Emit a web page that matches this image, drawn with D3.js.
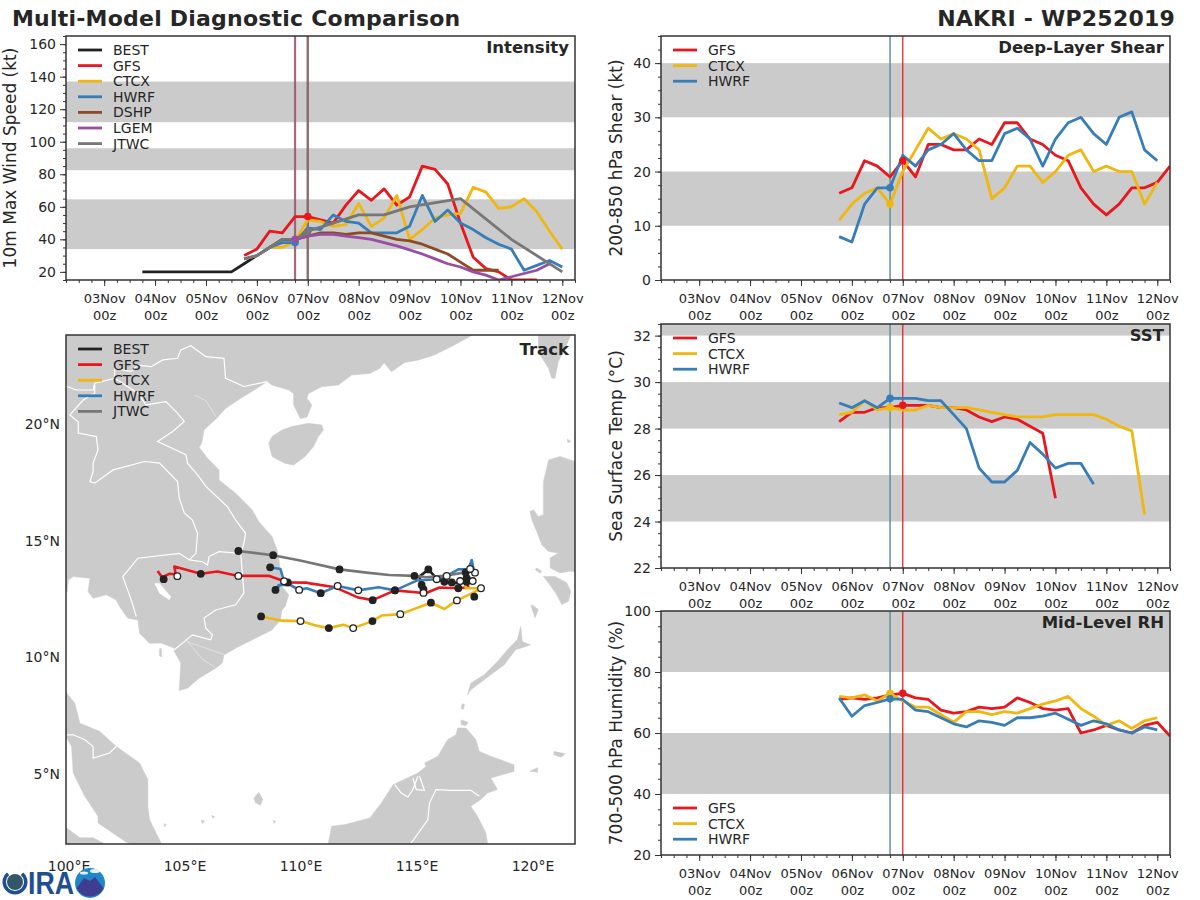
<!DOCTYPE html>
<html><head><meta charset="utf-8">
<script src="https://cdn.jsdelivr.net/npm/d3@7"></script>
<style>html,body{margin:0;padding:0;background:#fff}svg{display:block}text{font-family:"DejaVu Sans",sans-serif;fill:#262626}</style>
</head><body><svg id="c" width="1200" height="900"></svg>
<script>
// ---------- time axis (days after 03Nov 00z) ----------
const dayLabels=["03Nov","04Nov","05Nov","06Nov","07Nov","08Nov","09Nov","10Nov","11Nov","12Nov"];
const hourLabel="00z";
// ---------- intensity (kt) ----------
const bestDays=[0.75,1,1.25,1.5,1.75,2,2.25,2.5,2.75,3,3.25,3.5,3.75,4];
const bestWind=[20,20,20,20,20,20,20,20,25,30,35,40,40,45];
const gfsWind=[30,34,45,44,54,54,52,50,61,70,64,71,61,66,85,83,74,50,29,22,20,15,15,15];
const ctcxWind=[28,30,35,35,39,52,51,48,49,62,48,53,67,40,46,53,55,56,72,69,59,60,65,57,45,34];
const hwrfWind=[28,30,35,38,38,47,46,55,51,50,44,44,44,48,67,51,58,50,46,41,37,34,21,24,27,23];
const dshpWind=[40,42,44,44,43,44,44,42,40,39,37,34,31,26,21,21,21];
const lgemWind=[40,42,43,43,42,41,40,38,36,33.5,31,28,25,23,20,18,15,17,19,21,25];
const jtwcDays=[2.75,3,3.25,3.5,3.75,4,4.5,5,5.5,6,7,8,9];
const jtwcWind=[28,30,35,40,40,45,50,55,55,60,65,40,20];
// ---------- shear (kt) ----------
const gfsShear=[16,17,22,21,19,22,19,25,25,24,24,26,25,29,29,26,25,23,22,17,14,12,14,17,17,18,21];
const ctcxShear=[11,14,16,17,14,20,24,28,26,27,26,24,15,17,21,21,18,20,23,24,20,21,20,20,14,18];
const hwrfShear=[8,7,14,17,17,23,21,24,25,27,24,22,22,27,28,26,21,26,29,30,27,25,30,31,24,22];
// ---------- SST (C) ----------
const gfsSst=[28.3,28.7,28.7,28.9,28.9,29,29,29,28.9,28.9,28.8,28.5,28.3,28.5,28.4,28.1,27.8,25];
const ctcxSst=[28.6,28.7,29.2,28.8,28.9,28.8,28.8,29,28.9,28.9,28.9,28.8,28.7,28.6,28.5,28.5,28.5,28.6,28.6,28.6,28.6,28.4,28.1,27.9,24.3];
const hwrfSst=[29.1,28.9,29.2,28.9,29.3,29.3,29.3,29.2,29.2,28.6,28,26.3,25.7,25.7,26.2,27.4,26.9,26.3,26.5,26.5,25.6];
// ---------- mid-level RH (%) ----------
const gfsRh=[71,71.5,71,71.5,72.5,73,71.5,71,67.5,66.5,67,68.5,68,68.5,71.5,70,68,67.5,68,60,61,62.5,61,60,62.5,63.5,59];
const ctcxRh=[72,71.5,72.5,70.5,73,70.5,68.5,68.5,66,63.5,67,67,66,67,66.5,68,69.5,70.5,72,68,65.5,62.5,64,61.5,64,65];
const hwrfRh=[71.5,65.5,69,70,71.2,71,67.5,67,65,63,62,64,63.5,62.5,65,65,65.5,66.5,64.5,62.5,64,63,61,60,62,61];
// ---------- tracks: [lon, lat, marker] marker f=filled, o=open ----------
const trackBest=[[115.28,12.9,"f"],[115.2,13.09,"f"],[115.1,13.45,""],[115.49,13.76,"f"],[115.88,13.33,""],[116.18,13.23,"f"],[116.5,13.2,"f"],[116.86,13.16,""],[117.14,13.23,"f"],[117.14,13.38,"f"],[117.1,13.63,"f"]];
const trackGfs=[[117.14,13.23,""],[117.22,12.99,""],[116.78,12.95,"f"],[115.97,12.98,""],[115.42,12.76,""],[115.28,12.75,"o"],[114.05,12.86,"f"],[113.09,12.44,"f"],[112.47,12.55,""],[111.47,12.99,""],[110.39,13.16,""],[110.25,13.19,""],[109.43,13.2,"f"],[108.64,13.48,""],[107.3,13.48,"o"],[106.4,13.67,""],[105.68,13.57,"f"],[104.54,13.88,""],[104.6,13.55,""],[104.32,13.57,""],[104.01,13.42,""],[103.82,13.69,""]];
const trackCtcx=[[117.07,13.24,""],[117.1,12.95,""],[117.76,12.95,"o"],[117.43,12.76,""],[116.72,12.43,"o"],[116.18,12.06,""],[115.6,12.33,"f"],[114.28,11.84,"o"],[113.47,11.78,""],[113.08,11.54,"f"],[112.25,11.24,"o"],[111.82,11.38,""],[111.2,11.24,"f"],[110.68,11.34,""],[109.98,11.54,"o"],[109.18,11.56,""],[108.28,11.74,"f"]];
const trackHwrf=[[117.14,13.59,""],[117.36,14.16,""],[117.46,13.66,""],[117.29,13.76,""],[116.78,13.76,""],[116.28,13.48,"o"],[115.85,13.34,"o"],[114.99,13.28,""],[114.05,12.86,"f"],[113.34,12.99,""],[112.47,12.86,"o"],[111.58,13.05,"o"],[110.85,12.74,"f"],[110.25,12.95,""],[109.92,12.88,"o"],[109.54,13.09,""],[109.04,13.09,""],[108.9,12.88,"f"],[109.27,13.25,"o"],[109.21,13.45,""],[109.11,13.78,""],[108.67,13.85,"f"]];
const trackJtwc=[[117.43,13.76,""],[117,13.62,""],[116.28,13.5,""],[115.4,13.42,""],[114.89,13.48,"f"],[113.8,13.52,""],[112.83,13.62,""],[111.66,13.76,"f"],[109.96,14.14,""],[108.8,14.37,"f"],[107.3,14.55,"f"]];
const extraFilled=[[117.47,12.59],[104.08,13.34]];
const extraOpen=[[116.86,13.26],[117.5,13.62],[117.4,13.26],[117.29,13.78],[104.67,13.47]];
// ---------- map outlines (lon, lat) ----------
const landMain=[[117.4,23.82],[116.61,23.39],[115.75,22.96],[115.04,22.74],[114.47,22.64],[113.9,22.24],[113.58,22.63],[113.4,22.39],[112.97,22.17],[112.18,22.1],[111.61,21.67],[110.9,21.6],[110.32,21.31],[110.25,21.1],[110.47,20.82],[110.25,20.29],[109.97,20.24],[109.68,20.82],[109.68,21.31],[109.47,21.46],[108.75,21.67],[108.54,21.82],[108.04,21.49],[107.4,21.1],[106.75,20.67],[106.32,20.2],[105.82,19.74],[105.72,19.17],[105.61,19],[105.97,18.53],[106.47,18.03],[106.47,17.6],[107.18,17.03],[107.9,16.31],[108.18,15.81],[108.75,15.17],[108.97,14.6],[109.07,14.03],[109.18,13.03],[109.47,12.67],[109.32,12.17],[109.18,12.02],[109.11,11.59],[108.75,11.16],[108.04,10.81],[107.18,10.38],[106.68,10.09],[106.61,9.74],[106.32,9.52],[105.61,9.09],[105.11,8.66],[104.75,8.56],[104.82,9.74],[104.54,10.24],[104.54,10.38],[103.97,10.6],[103.47,10.59],[103.04,11.02],[102.97,11.59],[102.54,11.66],[102.18,12.16],[102.04,12.45],[101.61,12.67],[101.04,12.52],[100.82,12.81],[100.9,13.38],[100.18,13.45],[99.97,13.31],[99.92,12.81],[99.4,12.7],[99.4,24.5],[117.4,24.5]];
const landLake=[[103.68,13.17],[103.9,13.17],[104.4,12.59],[104.32,12.45],[103.9,12.74]];
const landHainan=[[108.61,19.17],[108.75,19.46],[109.18,19.74],[109.61,19.89],[110.32,20.03],[110.9,19.96],[110.97,19.74],[110.75,19.46],[110.54,19.03],[110.18,18.6],[109.68,18.24],[109.32,18.31],[108.75,18.6]];
const landTaiwan=[[120.23,24.5],[122,24.5],[121.67,23.9],[121.38,23.25],[121.09,22.68],[120.95,21.96],[120.81,21.96],[120.67,22.39],[120.31,22.96],[120.23,23.39]];
const landLuzon=[[120.67,18.46],[121.17,18.6],[121.81,18.39],[122.3,18.39],[122.3,13.6],[121.6,13.68],[121.17,13.61],[120.74,13.82],[120.74,14.25],[121.1,14.46],[120.67,14.53],[120.38,14.82],[120.16,15.39],[119.95,15.89],[119.87,16.25],[120.02,16.32],[120.23,16.03],[120.45,16.11],[120.45,16.68],[120.45,17.53],[120.59,18.1]];
const landMindoro=[[120.45,13.46],[120.95,13.46],[121.46,13.18],[121.63,12.82],[121.53,12.39],[121.24,12.25],[121.02,12.68],[120.67,13.18]];
const landPalawan=[[119.47,11.31],[119.54,10.66],[119.9,10.52],[119.25,10.31],[118.75,9.66],[118.18,9.24],[117.32,8.59],[117.18,8.38],[117.32,8.88],[117.9,9.24],[118.47,9.81],[118.9,10.31],[119.32,10.74]];
const landBorneo=[[111.18,1.5],[111.18,2.02],[111.32,2.74],[111.9,2.81],[112.97,3.09],[113.47,3.74],[113.97,4.52],[115.04,5.02],[115.4,5.31],[115.33,5.45],[115.9,5.74],[116.32,6.45],[116.68,6.66],[116.75,6.95],[117.11,6.95],[117.54,6.45],[117.68,5.95],[118.18,5.74],[119.18,5.38],[119.18,5.09],[118.18,4.81],[118.47,4.31],[118.04,4.16],[117.75,3.88],[117.32,3.59],[117.61,3.16],[117.97,2.45],[118.04,2.02],[118.04,1.5]];
const landMalaya=[[99.4,8.5],[99.9,8.45],[100.25,8.02],[100.47,7.16],[101.32,6.81],[102.04,6.16],[103.04,5.45],[103.4,4.74],[103.4,3.59],[103.47,3.02],[103.97,2.02],[103.97,1.5],[102.47,2.05],[101.25,2.88],[101.25,3.16],[100.68,4.02],[100.18,5.02],[100.11,6.16],[99.9,6.52],[99.4,6.8]];
const landSumatra=[[99.9,2.66],[100.47,2.24],[101.04,2.24],[101.47,2.02],[101.47,1.5],[99.4,1.5],[99.4,2.9]];
const landSmall=[
 [[108.18,4.19],[108.35,3.88],[108.25,3.64],[108.04,3.74],[107.97,3.95]],
 [[103.97,10.38],[104,10],[103.9,10.05],[103.9,10.35]],
 [[120.9,5.95],[121.4,5.85],[121.2,5.7],[120.9,5.8]],
 [[119.85,5.1],[120.2,5.25],[120.2,5.05]],
 [[119.9,12.2],[120.2,12.05],[120,12]],
 [[120.16,13.82],[120.38,13.68],[120.3,13.6],[120.1,13.75]],
 [[119.95,12.25],[120.23,12.03],[120.09,11.68],[119.99,11.96]],
 [[121.48,19.35],[121.63,19.25],[121.5,19.2]],
 [[116.95,8],[117.05,7.95],[117,7.75],[116.9,7.8]],
 [[116.9,7.3],[117.2,7.2],[117.1,7.05],[116.9,7.1]],
 [[105.7,3],[105.85,2.95],[105.75,2.85]],[[106.15,3.2],[106.28,3.15],[106.2,3.08]],[[108.8,3],[108.9,2.95],[108.85,2.85]],[[104.1,2.85],[104.2,2.8],[104.12,2.7]]
];
const borders=[
 [[108.54,21.82],[107.54,21.61],[106.75,21.96],[106.68,22.82],[105.9,22.89],[105.25,23.36],[104.82,23.18],[104.68,22.82],[104.04,22.75],[103.54,22.46],[102.97,22.53],[102.68,22.25],[101.97,22.39],[101.97,21.96],[101.11,21.75],[101.04,21.46],[100.32,21.46],[99.9,21.61],[99.5,22]],
 [[101.11,21.7],[101.11,21.32],[100.61,21.03],[100.04,20.39],[100.4,20.08],[100.4,19.61],[101.18,19.46],[101.25,18.89],[101.04,18.32],[101.04,17.96],[100.9,17.53],[101.11,17.46],[101.9,18.03],[103.25,18.39],[103.9,18.32],[104.68,17.53],[104.75,16.82],[104.97,16.18],[105.32,15.88],[105.54,15.31],[105.47,14.45],[105.18,14.17]],
 [[105.18,14.17],[104.75,14.45],[102.97,14.24],[102.32,13.45],[102.68,12.45],[102.9,11.74]],
 [[105.18,14.17],[105.75,14.09],[105.97,13.95],[106.04,14.31],[106.47,14.52],[107.4,14.45]],
 [[107.4,14.45],[107.54,12.74],[107.18,12.24],[106.32,12.02],[105.82,11.67],[105.9,11.24],[106.18,10.95],[106.11,10.74],[105.32,10.95],[104.97,10.66],[104.54,10.31]],
 [[101.97,21.96],[102.97,21.32],[103.32,20.82],[104.18,20.96],[104.68,20.46],[104.97,20.11],[104.47,19.68],[103.82,19.25],[105.04,18.68],[105.11,18.32],[105.54,17.82],[105.9,17.32],[106.82,16.46],[107.18,15.88],[107.61,15.31],[107.54,14.88],[107.4,14.45]],
 [[99.9,6.66],[100.18,6.66],[100.68,6.45],[101.04,6.16],[101.04,5.66],[101.75,5.88],[102.04,6.16]],
 [[114.75,2.02],[115.11,2.52],[115.47,3.02],[115.54,3.74],[115.82,4.31],[116.47,4.28],[117.32,4.28],[117.68,4.02]],
 [[114.04,4.52],[114.32,4.16],[114.61,3.99],[114.82,4.31],[115.04,4.88]],
 [[114.82,4.81],[114.97,4.31],[115.32,4.28],[115.11,4.88]]
];
const rivers=[[[105.4,21.25],[105.9,21],[106.32,20.32]],[[105,10.8],[105.75,9.9],[106.3,9.55]],[[105.1,10.65],[106.7,10.1]]];
// ---------- colours / names ----------
const C={BEST:"#222222",GFS:"#e8171e",CTCX:"#efb70f",HWRF:"#377eb8",DSHP:"#8c4b26",LGEM:"#984ea3",JTWC:"#777777"};
const svg=d3.select("#c");
const PW=509,PH=244;
const x=d3.scaleLinear().domain([-0.75,9.25]).range([0,PW]);
const from=(s,v)=>v.map((d,i)=>[s+i*0.25,d]);
const zip=(a,b)=>a.map((d,i)=>[d,b[i]]);
function panel(o){
  const g=svg.append("g").attr("transform",`translate(${o.left},${o.top})`);
  const id="clip"+o.top+"_"+o.left;
  g.append("clipPath").attr("id",id).append("rect").attr("width",PW).attr("height",PH);
  const y=d3.scaleLinear().domain(o.dom).range([PH,0]);
  const body=g.append("g").attr("clip-path",`url(#${id})`);
  body.selectAll(".band").data(o.bands).join("rect").attr("x",0).attr("width",PW)
    .attr("y",d=>y(d[1])).attr("height",d=>y(d[0])-y(d[1])).attr("fill","#cbcbcb");
  o.vlines.forEach(v=>body.append("line").attr("x1",x(v[0])).attr("x2",x(v[0])).attr("y1",0).attr("y2",PH).attr("stroke",v[1]).attr("stroke-width",v[2]).attr("stroke-opacity",v[3]||1));
  const line=d3.line().x(d=>x(d[0])).y(d=>y(d[1]));
  o.series.forEach(s=>body.append("path").attr("d",line(s.pts)).attr("fill","none").attr("stroke",C[s.name]).attr("stroke-width",2.8).attr("stroke-linejoin","round"));
  o.dots.forEach(s=>body.append("circle").attr("cx",x(s[1])).attr("cy",y(s[2])).attr("r",3.8).attr("fill",C[s[0]]));
  // axes
  const ax=d3.axisBottom(x).tickValues(d3.range(0,dayLabels.length)).tickSize(6).tickPadding(17).tickFormat(d=>dayLabels[d]);
  const ag=g.append("g").attr("transform",`translate(0,${PH})`).call(ax);
  ag.selectAll("text").attr("font-size",13).each(function(d){
    const t=d3.select(this),lab=dayLabels[d];t.text(null);
    t.append("tspan").attr("x",0).attr("dy",0).text(lab);
    t.append("tspan").attr("x",0).attr("dy","1.3em").text(hourLabel);
  });
  const mx=d3.axisBottom(x).tickValues(d3.range(-0.75,9.26,0.25)).tickSize(3).tickFormat("");
  g.append("g").attr("transform",`translate(0,${PH})`).call(mx);
  const ay=d3.axisLeft(y).tickValues(o.ticks).tickSize(6).tickPadding(4);
  const yg=g.append("g").call(ay); yg.selectAll("text").attr("font-size",14);
  const my=d3.axisLeft(y).tickValues(o.minor).tickSize(3).tickFormat("");
  g.append("g").call(my);
  g.selectAll(".domain").attr("stroke","none");
  g.selectAll(".tick line").attr("stroke","#333");
  g.append("rect").attr("width",PW).attr("height",PH).attr("fill","none").attr("stroke","#333").attr("stroke-width",1.5);
  g.append("text").attr("transform",`translate(${o.labelX-o.left},${PH/2}) rotate(-90)`).attr("text-anchor","middle").attr("dominant-baseline","central").attr("font-size",17).text(o.ylabel);
  title(g,o.title,PW-6,11);
  legend(g,o.series.map(s=>s.name),o.legendY);
}
function title(g,t,xp,yp){g.append("text").attr("x",xp).attr("y",yp).attr("text-anchor","end").attr("dominant-baseline","central").attr("font-size",16.5).attr("font-weight","bold").attr("fill","#262626").text(t);}
function legend(g,names,y0){
  names.forEach((n,i)=>{
    const yy=y0+i*15.6;
    g.append("line").attr("x1",12).attr("x2",36).attr("y1",yy).attr("y2",yy).attr("stroke",C[n]).attr("stroke-width",2.8);
    g.append("text").attr("x",47).attr("y",yy).attr("dominant-baseline","central").attr("font-size",14).text(n);
  });
}
const minorTicks=(a,b,s)=>d3.range(a,b+1e-6,s);
const thinLines=[[3.75,C.CTCX,1.8,.4],[3.75,C.HWRF,1.1],[4,C.GFS,1.2]];
panel({left:66,top:36,dom:[15,165],ylabel:"10m Max Wind Speed (kt)",labelX:10,title:"Intensity",
  ticks:d3.range(20,161,20),minor:minorTicks(15,165,5),
  bands:[[34,64.6],[82.5,96],[112,137]],legendY:14,
  vlines:[[3.75,C.CTCX,2.2,.5],[3.75,C.DSHP,2.2,.5],[3.75,C.LGEM,1.6,.8],[4,C.GFS,2.2,.5],[4,C.DSHP,2.2,.6],[4,C.JTWC,1.7]],
  series:[{name:"BEST",pts:zip(bestDays,bestWind)},{name:"GFS",pts:from(2.75,gfsWind)},{name:"CTCX",pts:from(2.75,ctcxWind)},{name:"HWRF",pts:from(2.75,hwrfWind)},{name:"DSHP",pts:from(3.75,dshpWind)},{name:"LGEM",pts:from(3.75,lgemWind)},{name:"JTWC",pts:zip(jtwcDays,jtwcWind)}],
  dots:[["GFS",4,54],["CTCX",3.75,39],["HWRF",3.75,38],["LGEM",3.75,40],["JTWC",4,45]]});
panel({left:661,top:36,dom:[0,45],ylabel:"200-850 hPa Shear (kt)",labelX:616,title:"Deep-Layer Shear",
  ticks:d3.range(0,41,10),minor:minorTicks(0,45,2.5),bands:[[10,20],[30,40]],legendY:14,vlines:thinLines,
  series:[{name:"GFS",pts:from(2.75,gfsShear)},{name:"CTCX",pts:from(2.75,ctcxShear)},{name:"HWRF",pts:from(2.75,hwrfShear)}],
  dots:[["GFS",4,22],["CTCX",3.75,14],["HWRF",3.75,17]]});
panel({left:661,top:324,dom:[22,32.5],ylabel:"Sea Surface Temp (°C)",labelX:616,title:"SST",
  ticks:d3.range(22,33,2),minor:minorTicks(22,32.5,0.5),bands:[[24,26],[28,30],[32,33]],legendY:14,vlines:thinLines,
  series:[{name:"GFS",pts:from(2.75,gfsSst)},{name:"CTCX",pts:from(2.75,ctcxSst)},{name:"HWRF",pts:from(2.75,hwrfSst)}],
  dots:[["GFS",4,29],["CTCX",3.75,28.9],["HWRF",3.75,29.3]]});
panel({left:661,top:611,dom:[20,100],ylabel:"700-500 hPa Humidity (%)",labelX:616,title:"Mid-Level RH",
  ticks:d3.range(20,101,20),minor:minorTicks(20,100,5),bands:[[40,60],[80,100]],legendY:197,vlines:thinLines,
  series:[{name:"GFS",pts:from(2.75,gfsRh)},{name:"CTCX",pts:from(2.75,ctcxRh)},{name:"HWRF",pts:from(2.75,hwrfRh)}],
  dots:[["GFS",4,73],["CTCX",3.75,73],["HWRF",3.75,71.2]]});
// ---------- track ----------
(function(){
  const W=509,H=509;
  const g=svg.append("g").attr("transform","translate(66,335)");
  g.append("clipPath").attr("id","trk").append("rect").attr("width",W).attr("height",H);
  const lonS=d3.scaleLinear().domain([100,120]).range([3,467]);
  const latS=d3.scaleLinear().domain([20,5]).range([89,438.5]);
  const body=g.append("g").attr("clip-path","url(#trk)");
  const ll=d3.line().x(d=>lonS(d[0])).y(d=>latS(d[1]));
  const polys=[landMain,landHainan,landTaiwan,landLuzon,landMindoro,landPalawan,landBorneo,landMalaya,landSumatra].concat(landSmall);
  body.selectAll(".land").data(polys).join("path").attr("d",d=>ll(d)+"Z").attr("fill","#cbcbcb").attr("stroke","#cbcbcb").attr("stroke-width",.5).attr("stroke-linejoin","round");
  body.append("path").attr("d",ll(landLake)+"Z").attr("fill","#fff");
  body.selectAll(".bd").data(borders).join("path").attr("d",ll).attr("fill","none").attr("stroke","#fff").attr("stroke-width",1.2);
  body.selectAll(".rv").data(rivers).join("path").attr("d",ll).attr("fill","none").attr("stroke","#fff").attr("stroke-opacity",.5).attr("stroke-width",.8);
  const tracks=[["BEST",trackBest],["GFS",trackGfs],["CTCX",trackCtcx],["HWRF",trackHwrf],["JTWC",trackJtwc]];
  tracks.forEach(t=>body.append("path").attr("d",ll(t[1])).attr("fill","none").attr("stroke",C[t[0]]).attr("stroke-width",2.6).attr("stroke-linejoin","round"));
  const filled=tracks.flatMap(t=>t[1].filter(d=>d[2]==="f")).concat(extraFilled);
  const open=tracks.flatMap(t=>t[1].filter(d=>d[2]==="o")).concat(extraOpen);
  body.selectAll(".f").data(filled).join("circle").attr("cx",d=>lonS(d[0])).attr("cy",d=>latS(d[1])).attr("r",3.9).attr("fill","#222");
  body.selectAll(".o").data(open).join("circle").attr("cx",d=>lonS(d[0])).attr("cy",d=>latS(d[1])).attr("r",3.3).attr("fill","#fff").attr("stroke","#222").attr("stroke-width",1.3);
  g.append("rect").attr("width",W).attr("height",H).attr("fill","none").attr("stroke","#333").attr("stroke-width",1.5);
  title(g,"Track",W-6,14);
  legend(g,["BEST","GFS","CTCX","HWRF","JTWC"],14);
  [20,15,10,5].forEach(v=>g.append("text").attr("x",-6).attr("y",latS(v)).attr("text-anchor","end").attr("dominant-baseline","central").attr("font-size",14).text(v+"°N"));
  [100,105,110,115,120].forEach(v=>g.append("text").attr("x",lonS(v)).attr("y",H+22).attr("text-anchor","middle").attr("dominant-baseline","central").attr("font-size",14).text(v+"°E"));
})();
// ---------- titles ----------
svg.append("text").attr("x",12).attr("y",26).attr("font-size",22).attr("font-weight","bold").attr("fill","#262626").attr("letter-spacing",0.22).text("Multi-Model Diagnostic Comparison");
svg.append("text").attr("x",1175).attr("y",26).attr("text-anchor","end").attr("font-size",22).attr("font-weight","bold").attr("fill","#262626").attr("letter-spacing",0.22).text("NAKRI - WP252019");
// ---------- logos ----------
const lg=svg.append("g");
lg.append("circle").attr("cx",15).attr("cy",882).attr("r",8).attr("fill","#34566a");
lg.append("path").attr("d",d3.arc()({innerRadius:9,outerRadius:12.5,startAngle:0.7,endAngle:2*Math.PI-0.7})).attr("transform","translate(15,882)").attr("fill","#1d4f91");
lg.append("text").attr("x",28).attr("y",894).attr("font-size",32).attr("font-weight","bold").attr("style","fill:#1d4f91;font-family:'Liberation Sans',sans-serif").attr("textLength",46).attr("lengthAdjust","spacingAndGlyphs").text("IRA");
lg.append("circle").attr("cx",90).attr("cy",883).attr("r",15).attr("fill","#1f86c8");
lg.append("path").attr("d","M76.5 888 L84 878 L90 881 L95 877 L103.5 888 A15 15 0 0 1 76.5 888Z").attr("fill","#3f3d92");
lg.append("ellipse").attr("cx",84).attr("cy",873).attr("rx",4).attr("ry",1.5).attr("fill","#e6f2fa");
lg.append("ellipse").attr("cx",95).attr("cy",871).attr("rx",5).attr("ry",2).attr("fill","#e6f2fa");
</script></body></html>
